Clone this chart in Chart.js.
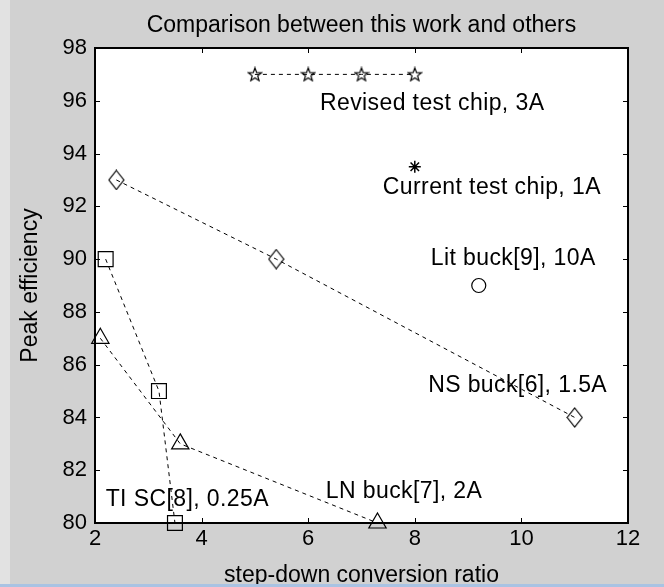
<!DOCTYPE html>
<html>
<head>
<meta charset="utf-8">
<script src="https://cdn.jsdelivr.net/npm/chart.js@4"></script>
<style>
    html, body { margin: 0; padding: 0; }
    body {
        width: 664px; height: 587px; overflow: hidden;
        background: linear-gradient(to right, #e2e2e2 0, #e2e2e2 10px, #d1d1d1 10px);
        position: relative;
    }
    #edge { position: absolute; left: 0; bottom: 0; width: 664px; height: 3px; background: #a9c3e3; }
    canvas { position: absolute; left: 0; top: 0; }
</style>
</head>
<body>
<canvas id="chart" width="664" height="587"></canvas>
<div id="edge"></div>
<script>
// axis ticks
const xTicks = [2, 4, 6, 8, 10, 12];
const yTicks = [80, 82, 84, 86, 88, 90, 92, 94, 96, 98];

// Revised test chip, 3A (pentagrams)
const revisedX = [5, 6, 7, 8];
const revisedY = [97, 97, 97, 97];
// NS buck[6], 1.5A (diamonds)
const nsX = [2.4, 5.4, 11];
const nsY = [93, 90, 84];
// TI SC[8], 0.25A (squares)
const tiX = [2.2, 3.2, 3.5];
const tiY = [90, 85, 80];
// LN buck[7], 2A (triangles)
const lnX = [2.1, 3.6, 7.3];
const lnY = [87, 83, 80];
// Current test chip, 1A (asterisk)
const currentX = [8];
const currentY = [93.5];
// Lit buck[9], 10A (circle)
const litX = [9.2];
const litY = [89];

// text labels placed in data coordinates (left edge, middle)
const labelTexts = ['Revised test chip, 3A', 'Current test chip, 1A', 'Lit buck[9], 10A',
    'NS buck[6], 1.5A', 'LN buck[7], 2A', 'TI SC[8], 0.25A'];
const labelX = [6.22, 7.4, 8.3, 8.25, 6.33, 2.2];
const labelY = [95.9, 92.7, 90, 85.2, 81.2, 80.9];

const FONT = '"Liberation Sans", Arial, sans-serif';

function toPoints(xs, ys) {
    return xs.map((x, i) => ({ x: x, y: ys[i] }));
}

// small canvases used as marker shapes
function makeMarker(w, h, draw) {
    const c = document.createElement('canvas');
    c.width = w;
    c.height = h;
    const g = c.getContext('2d');
    g.strokeStyle = '#000';
    g.lineWidth = 1.2;
    draw(g);
    return c;
}

const pentagram = makeMarker(16, 16, g => {
    g.beginPath();
    for (let i = 0; i < 10; i++) {
        const r = i % 2 === 0 ? 7 : 2.9;
        const a = -Math.PI / 2 + i * Math.PI / 5;
        const px = 8 + r * Math.cos(a);
        const py = 8.5 + r * Math.sin(a);
        if (i === 0) g.moveTo(px, py); else g.lineTo(px, py);
    }
    g.closePath();
    g.stroke();
});

const diamond = makeMarker(17, 21, g => {
    g.beginPath();
    g.moveTo(8.5, 1);
    g.lineTo(16, 10.5);
    g.lineTo(8.5, 20);
    g.lineTo(1, 10.5);
    g.closePath();
    g.stroke();
});

function seriesLine(data, style, radius) {
    return {
        data: data,
        showLine: true,
        borderColor: '#000',
        borderWidth: 1,
        borderDash: [4, 4],
        pointStyle: style,
        pointRadius: radius,
        pointHoverRadius: radius,
        pointBorderColor: '#000',
        pointBorderWidth: 1.2,
        pointBackgroundColor: 'rgba(0,0,0,0)',
        clip: false
    };
}

// white plot area, box and inward ticks like the original figure
const boxPlugin = {
    id: 'box',
    beforeDraw(chart) {
        const a = chart.chartArea;
        const ctx = chart.ctx;
        ctx.save();
        ctx.fillStyle = '#fff';
        ctx.fillRect(a.left, a.top, a.right - a.left, a.bottom - a.top);
        ctx.restore();
    },
    afterDatasetsDraw(chart) {
        const a = chart.chartArea;
        const ctx = chart.ctx;
        const xs = chart.scales.x;
        const ys = chart.scales.y;
        ctx.save();
        ctx.strokeStyle = '#000';
        ctx.lineWidth = 1;
        ctx.beginPath();
        xTicks.forEach(v => {
            const px = Math.round(xs.getPixelForValue(v)) + 0.5;
            ctx.moveTo(px, a.top); ctx.lineTo(px, a.top + 5);
            ctx.moveTo(px, a.bottom); ctx.lineTo(px, a.bottom - 5);
        });
        yTicks.forEach(v => {
            const py = Math.round(ys.getPixelForValue(v)) + 0.5;
            ctx.moveTo(a.left, py); ctx.lineTo(a.left + 5, py);
            ctx.moveTo(a.right, py); ctx.lineTo(a.right - 5, py);
        });
        ctx.stroke();
        ctx.lineWidth = 2;
        ctx.strokeRect(a.left, a.top, a.right - a.left, a.bottom - a.top);

        ctx.fillStyle = '#000';
        ctx.font = '23px ' + FONT;
        ctx.letterSpacing = '0.4px';
        ctx.textAlign = 'left';
        ctx.textBaseline = 'middle';
        labelTexts.forEach((t, i) => {
            ctx.fillText(t, xs.getPixelForValue(labelX[i]), ys.getPixelForValue(labelY[i]));
        });
        ctx.restore();
    }
};

new Chart(document.getElementById('chart'), {
    type: 'scatter',
    data: {
        datasets: [
            seriesLine(toPoints(revisedX, revisedY), pentagram, 8),
            seriesLine(toPoints(nsX, nsY), diamond, 10),
            seriesLine(toPoints(tiX, tiY), 'rect', 10.5),
            seriesLine(toPoints(lnX, lnY), 'triangle', 10),
            Object.assign(seriesLine(toPoints(currentX, currentY), 'star', 6), { showLine: false, pointBorderWidth: 1.5 }),
            Object.assign(seriesLine(toPoints(litX, litY), 'circle', 7), { showLine: false })
        ]
    },
    options: {
        responsive: false,
        animation: false,
        events: [],
        layout: { padding: { left: 0, right: 36, top: 0, bottom: 0 } },
        plugins: {
            legend: { display: false },
            tooltip: { enabled: false },
            title: {
                display: true,
                fullSize: false,
                text: 'Comparison between this work and others',
                color: '#000',
                font: { family: FONT, size: 23, weight: 'normal', lineHeight: 1.2 },
                padding: { top: 12, bottom: 8.4 }
            }
        },
        scales: {
            x: {
                type: 'linear',
                min: 2,
                max: 12,
                afterFit: scale => { scale.height = 64; },
                afterBuildTicks: scale => { scale.ticks = xTicks.map(v => ({ value: v })); },
                grid: { display: false, drawTicks: false },
                border: { display: false },
                ticks: { color: '#000', padding: 3, font: { family: FONT, size: 22 } },
                title: {
                    display: true,
                    text: 'step-down conversion ratio',
                    color: '#000',
                    font: { family: FONT, size: 23, lineHeight: 1 },
                    padding: { top: 0, bottom: 0 }
                }
            },
            y: {
                type: 'linear',
                min: 80,
                max: 98,
                afterFit: scale => { scale.width = 95; },
                afterBuildTicks: scale => { scale.ticks = yTicks.map(v => ({ value: v })); },
                grid: { display: false, drawTicks: false },
                border: { display: false },
                ticks: { color: '#000', padding: 8, font: { family: FONT, size: 22 } },
                title: {
                    display: true,
                    text: 'Peak efficiency',
                    color: '#000',
                    font: { family: FONT, size: 23, lineHeight: 1.2 },
                    padding: { top: 17, bottom: 0 }
                }
            }
        }
    },
    plugins: [boxPlugin]
});
</script>
</body>
</html>
